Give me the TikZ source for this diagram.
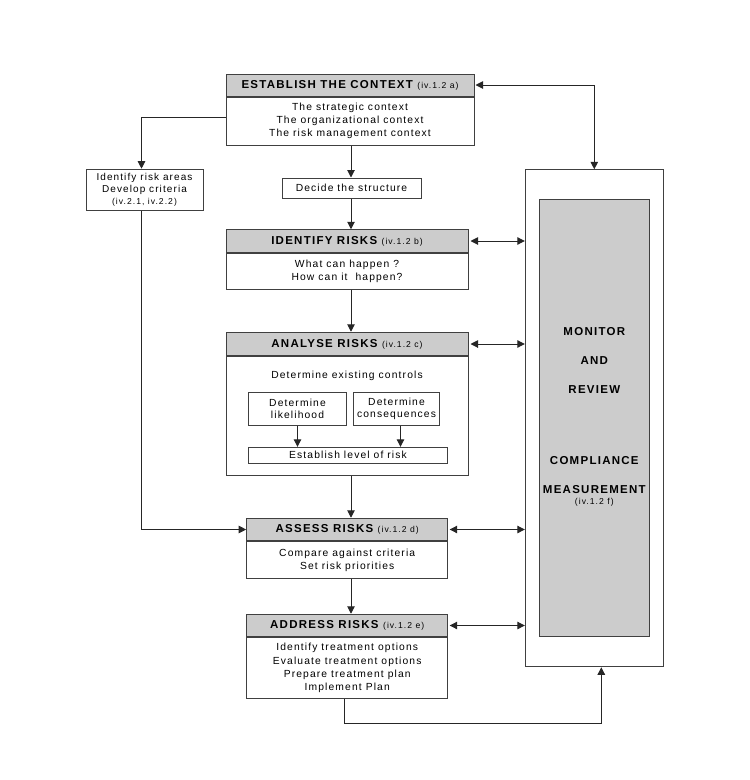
\documentclass[tikz,border=0pt]{standalone}
\usepackage{fontspec}
\setmainfont{Liberation Sans}[LetterSpace=11]
\newfontfamily\headfont{Liberation Sans}[LetterSpace=11]
\newfontfamily\reffont{Liberation Sans}[LetterSpace=12]
\usetikzlibrary{positioning}
\usetikzlibrary{arrows.meta}
\tikzset{>={Triangle[width=7.5pt,length=7.5pt]}}
\newcommand{\secref}[1]{{\reffont\mdseries\fontsize{8.6}{9.5}\selectfont #1}}

\begin{document}
\begin{tikzpicture}[x=1pt, y=-1pt, textnode/.style={draw=black!75, fill=white, line width=1pt, align=center, inner sep=0pt, font=\fontsize{10.3}{13.3}\selectfont}, headnode/.style={textnode, fill=black!20, font=\headfont\bfseries\fontsize{11.5}{13}\selectfont}, emptynode/.style={draw=none, fill=none, align=center, inner sep=0pt, font=\fontsize{10.3}{13.3}\selectfont}, monitortext/.style={emptynode, font=\headfont\bfseries\fontsize{11.5}{13}\selectfont}, line/.style={line width=1pt, draw=black!85}]
    \useasboundingbox (0,0) rectangle (750,780);

    %Nodes
    \node[headnode, minimum width=248pt, minimum height=22pt](establish) at (350,85){ESTABLISH THE CONTEXT \secref{(iv.1.2 a)}};
    \node[textnode, minimum width=248pt, minimum height=48pt, font=\fontsize{10.3}{12.8}\selectfont](establish_text)[below=0pt of establish]{The strategic context\\The organizational context\\The risk management context};
    \node[textnode, minimum width=139pt, minimum height=20pt](decide) at (351.5,188){Decide the structure};
    \node[textnode, minimum width=117pt, minimum height=41pt, font=\fontsize{10}{11.7}\selectfont](areas) at (144.5,189.7){Identify risk areas\\Develop criteria\\\secref{(iv.2.1, iv.2.2)}};
    \node[headnode, minimum width=242pt, minimum height=22.5pt](identify) at (347,241){IDENTIFY RISKS \secref{(iv.1.2 b)}};
    \node[textnode, minimum width=242pt, minimum height=36pt](identify_text)[below=0pt of identify]{What can happen ?\\How can it~ happen?};
    \node[headnode, minimum width=242pt, minimum height=23.5pt](analyse) at (347,344){ANALYSE RISKS \secref{(iv.1.2 c)}};
    \node[textnode, minimum width=242pt, minimum height=119pt](analyse_text)[below=0pt of analyse]{};
    \node[emptynode](controls) at (347,376){Determine existing controls};
    \node[textnode, minimum width=98pt, minimum height=33pt, font=\fontsize{10.3}{12.3}\selectfont](likelihood) at (297.5,408.7){Determine\\likelihood};
    \node[textnode, minimum width=86pt, minimum height=33pt, font=\fontsize{10.3}{12.3}\selectfont](consequences)[right=6pt of likelihood]{Determine\\consequences};
    \node[textnode, minimum width=199pt, minimum height=16pt](level) at (348,455.3){Establish level of risk};
    \node[headnode, minimum width=201pt, minimum height=22.5pt](assess) at (347.2,529.5){ASSESS RISKS \secref{(iv.1.2 d)}};
    \node[textnode, minimum width=201pt, minimum height=36.5pt](assess_text)[below=0pt of assess]{Compare against criteria\\Set risk priorities};
    \node[headnode, minimum width=201pt, minimum height=22.5pt](address) at (347.2,625.5){ADDRESS RISKS \secref{(iv.1.2 e)}};
    \node[textnode, minimum width=201pt, minimum height=61pt](address_text)[below=0pt of address]{Identify treatment options\\Evaluate treatment options\\Prepare treatment plan\\Implement Plan};
    \node[textnode, minimum width=138pt, minimum height=497pt](frame) at (594.3,418.3){};
    \node[headnode, minimum width=110pt, minimum height=437pt](monitor) at (frame.center){};
    \foreach \y/\t in {332/MONITOR, 361/AND, 390/REVIEW, 461/COMPLIANCE, 490/MEASUREMENT}
        \node[monitortext](label_\y) at (594.3,\y){\t};
    \node[emptynode](label_ref)[below=3.5pt of label_490]{\secref{(iv.1.2 f)}};
    \coordinate (spine) at (351,0);

    %Lines
    \draw[line, ->] (establish_text.south -| spine) -- (decide.north -| spine);
    \draw[line, ->] (decide.south -| spine) -- (identify.north -| spine);
    \draw[line, ->] (identify_text.south -| spine) -- (analyse.north -| spine);
    \draw[line, ->] (analyse_text.south -| spine) -- (assess.north -| spine);
    \draw[line, ->] (assess_text.south -| spine) -- (address.north -| spine);
    \draw[line, ->] (likelihood.south) -- (likelihood.south |- level.north);
    \draw[line, ->] ([xshift=4pt]consequences.south) -- ([xshift=4pt]consequences.south |- level.north);
    \draw[line, ->] ([yshift=4pt]establish_text.west) -| ([xshift=-3pt]areas.north);
    \draw[line, ->] ([xshift=-3pt]areas.south) |- (assess.west);
    \draw[line, <->, shorten <=1pt] (establish.east) -| (frame.north);
    \draw[line, <->, shorten <=2pt] (identify.east) -- (identify.east -| frame.west);
    \draw[line, <->, shorten <=2pt] (analyse.east) -- (analyse.east -| frame.west);
    \draw[line, <->, shorten <=1.5pt] (assess.east) -- (assess.east -| frame.west);
    \draw[line, <->, shorten <=1.5pt] (address.east) -- (address.east -| frame.west);
    \draw[line, ->] ([xshift=-3pt]address_text.south) -- ++(0,24.5) -| ([xshift=7pt]frame.south);

\end{tikzpicture}
\end{document}
